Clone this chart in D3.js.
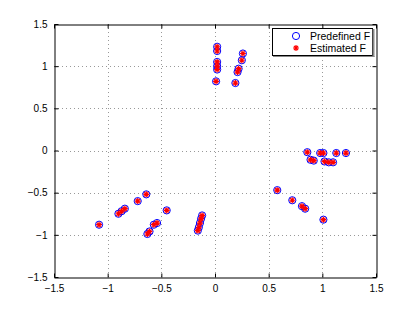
<!DOCTYPE html>
<html>
<head>
<meta charset="utf-8">
<script src="https://cdn.jsdelivr.net/npm/d3@7"></script>
<style>
  body { margin: 0; background: #fff; }
  text { font-family: "Liberation Sans", Arial, sans-serif; font-size: 10px; fill: #000; }
</style>
</head>
<body>
<div id="chart"></div>
<script>
// values
const predX = [0.02, 0.02, 0.02, 0.02, 0.02, 0.01,
               0.26, 0.25, 0.22, 0.21, 0.19,
               0.86, 0.98, 1.01, 1.13, 1.22, 0.89, 0.92, 1.02, 1.06, 1.10,
               0.58, 0.72, 0.81, 0.84, 1.01,
               -1.08, -0.90, -0.87, -0.84, -0.72, -0.64, -0.45, -0.54, -0.57, -0.61, -0.63,
               -0.12, -0.13, -0.14, -0.15, -0.16];
const predY = [1.23, 1.18, 1.05, 1.00, 0.96, 0.82,
               1.15, 1.07, 0.97, 0.93, 0.80,
               -0.02, -0.03, -0.03, -0.03, -0.03, -0.11, -0.12, -0.13, -0.14, -0.14,
               -0.47, -0.59, -0.66, -0.69, -0.82,
               -0.88, -0.75, -0.72, -0.69, -0.60, -0.52, -0.71, -0.86, -0.88, -0.96, -0.99,
               -0.77, -0.81, -0.86, -0.91, -0.95];
const estX = predX.slice();
const estY = predY.slice();
const ticks = [-1.5, -1, -0.5, 0, 0.5, 1, 1.5];
const legendLabels = ["Predefined F", "Estimated F"];

const W = 415, H = 312;
const m = {left: 54, right: 376, top: 24, bottom: 277};

const svg = d3.select("#chart").append("svg")
    .attr("width", W)
    .attr("height", H);

svg.append("rect").attr("width", W).attr("height", H).attr("fill", "#fff");

let x = d3.scaleLinear().domain([-1.5, 1.5]).range([m.left, m.right]);
let y = d3.scaleLinear().domain([-1.5, 1.5]).range([m.bottom, m.top]);

const fmt = d => String(d).replace("-", "\u2212");

// dotted grid
svg.append("g").selectAll("line")
    .data(ticks.slice(1, -1))
    .enter().append("line")
    .attr("x1", d => Math.round(x(d)) + 0.5).attr("x2", d => Math.round(x(d)) + 0.5)
    .attr("y1", m.top).attr("y2", m.bottom)
    .attr("stroke", "#999").attr("stroke-dasharray", "1,3");
svg.append("g").selectAll("line")
    .data(ticks.slice(1, -1))
    .enter().append("line")
    .attr("y1", d => Math.round(y(d)) + 0.5).attr("y2", d => Math.round(y(d)) + 0.5)
    .attr("x1", m.left).attr("x2", m.right)
    .attr("stroke", "#999").attr("stroke-dasharray", "1,3");

// axes, ticks pointing inwards like matlab
let xAxis = d3.axisBottom(x).tickValues(ticks).tickSizeInner(-4).tickSizeOuter(0).tickPadding(7).tickFormat(fmt);
let yAxis = d3.axisLeft(y).tickValues(ticks).tickSizeInner(-4).tickSizeOuter(0).tickPadding(7).tickFormat(fmt);

svg.append("g").attr("transform", "translate(0," + (m.bottom + 0.5) + ")").call(xAxis);
svg.append("g").attr("transform", "translate(" + (m.left + 0.5) + ",0)").call(yAxis);
svg.append("g").attr("transform", "translate(0," + (m.top + 0.5) + ")")
    .call(d3.axisTop(x).tickValues(ticks).tickSizeInner(-4).tickSizeOuter(0).tickFormat(""));
svg.append("g").attr("transform", "translate(" + (m.right + 0.5) + ",0)")
    .call(d3.axisRight(y).tickValues(ticks).tickSizeInner(-4).tickSizeOuter(0).tickFormat(""));
svg.selectAll(".domain").attr("stroke", "#000");
svg.selectAll(".tick line").attr("stroke", "#000");
svg.selectAll(".tick text").style("font-size", "10px").attr("fill", "#000");

const star = r => {
    let d = r * 0.7;
    return "M" + (-r) + ",0L" + r + ",0M0," + (-r) + "L0," + r +
        "M" + (-d) + "," + (-d) + "L" + d + "," + d + "M" + (-d) + "," + d + "L" + d + "," + (-d);
};

// predefined: blue circles
svg.append("g").selectAll("circle")
    .data(predX.map((v, i) => [v, predY[i]]))
    .enter().append("circle")
    .attr("cx", d => x(d[0])).attr("cy", d => y(d[1]))
    .attr("r", 3.6)
    .attr("fill", "none").attr("stroke", "#0000ff").attr("stroke-width", 1);

// estimated: red asterisks
svg.append("g").selectAll("path")
    .data(estX.map((v, i) => [v, estY[i]]))
    .enter().append("path")
    .attr("transform", d => "translate(" + x(d[0]) + "," + y(d[1]) + ")")
    .attr("d", star(3))
    .attr("fill", "none").attr("stroke", "#ff0000").attr("stroke-width", 1.2);

// legend
const lg = svg.append("g");
lg.append("rect").attr("x", 272.5).attr("y", 28.5).attr("width", 100).attr("height", 27)
    .attr("fill", "#fff").attr("stroke", "#000");
lg.append("line").attr("x1", 373.5).attr("x2", 373.5).attr("y1", 29).attr("y2", 57)
    .attr("stroke", "#888").attr("stroke-width", 2);
lg.append("line").attr("x1", 273).attr("x2", 374.5).attr("y1", 56.5).attr("y2", 56.5)
    .attr("stroke", "#888").attr("stroke-width", 1);
lg.append("circle").attr("cx", 296).attr("cy", 36).attr("r", 3.6)
    .attr("fill", "none").attr("stroke", "#0000ff");
lg.append("path").attr("transform", "translate(296,48)").attr("d", star(3))
    .attr("fill", "none").attr("stroke", "#ff0000").attr("stroke-width", 1.2);
lg.selectAll("text.lab")
    .data(legendLabels)
    .enter().append("text")
    .attr("class", "lab")
    .attr("x", 310).attr("y", (d, i) => 39.5 + i * 12)
    .style("font-size", "10.5px")
    .text(d => d);
</script>
</body>
</html>
